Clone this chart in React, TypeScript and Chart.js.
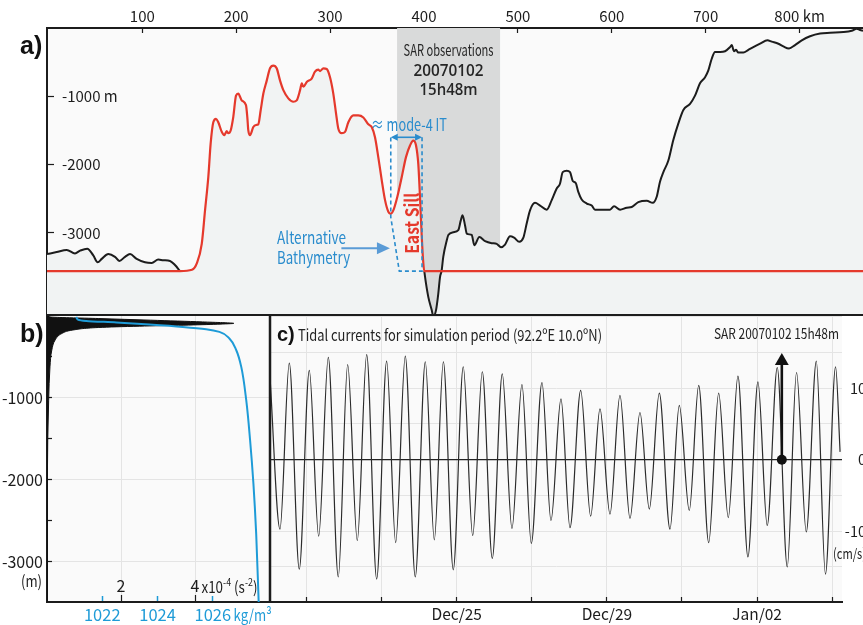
import React, { useEffect, useRef } from 'react';
import { Chart, registerables } from 'chart.js';

Chart.register(...registerables);

const FAM = '"Noto Sans CJK JP", "Noto Sans", "DejaVu Sans Condensed", sans-serif';
const SANS = '"Liberation Sans", "DejaVu Sans", sans-serif';
const OPEN = '"Open Sans", "Liberation Sans", sans-serif';
Chart.defaults.font.family = FAM;

const INK = '#1c1c1c';
const RED = '#e5392c';
const BLUE = '#2a8ccd';
const RHO_BLUE = '#1e9bd7';
const ARROW_BLUE = '#5a9bd6';
const SAR_GRAY = '#d9dada';
const WATER = '#fafafa';
const SEABED = '#f1f3f3';
const GRID = '#e4e4e4';

// ---------------- Panel a : bathymetry section ----------------
const kmTicks = [100, 200, 300, 400, 500, 600, 700, 800];
const lonTicks = [91, 92, 93, 94, 95, 96, 97];
const depthTicksA = [-1000, -2000, -3000, -4000];
const sarKm = [371.3, 481.0];

const westObsKm = [-1.5, 8.8, 19.5, 28.3, 33.7, 41.4, 47.8, 52.5, 56.8, 63.8, 70.9, 75.5, 81.6, 86.9, 94.0, 102.9, 110.0, 117.0, 122.4, 129.5, 134.8, 140.2];
const westObsDepth = [-3310, -3280, -3250, -3300, -3260, -3230, -3330, -3430, -3380, -3310, -3350, -3410, -3350, -3310, -3380, -3430, -3440, -3390, -3400, -3410, -3470, -3560];

const modelKm = [-1.5, 140.2, 152.9, 157.9, 163.3, 166.8, 170.3, 172.8, 175.6, 178.5, 180.9, 184.6, 187.3, 189.9, 191.6, 194.1, 196.9, 199.8, 202.2, 205.9, 210.4, 211.8, 212.9, 214.7, 218.2, 221.1, 223.5, 226.1, 228.9, 232.5, 236.0, 239.5, 243.1, 246.7, 250.2, 255.5, 260.8, 264.4, 268.0, 269.8, 271.5, 275.1, 280.4, 283.9, 287.4, 289.3, 292.8, 296.4, 299.9, 303.4, 306.3, 308.7, 312.4, 315.9, 319.4, 324.7, 330.0, 335.4, 340.7, 344.3, 347.8, 351.3, 355.0, 358.5, 362.0, 364.5, 367.3, 371.6, 376.3, 380.8, 385.1, 388.6, 391.5, 393.9, 395.7, 397.6, 399.3, 400.3, 867.5];
const modelDepth = [-3560, -3560, -3540, -3450, -3160, -2670, -2180, -1690, -1380, -1330, -1380, -1520, -1570, -1510, -1540, -1500, -1300, -990, -960, -1060, -1130, -1300, -1500, -1570, -1450, -1420, -1410, -1200, -960, -770, -590, -550, -590, -770, -910, -1030, -1080, -1060, -910, -810, -860, -790, -740, -640, -610, -630, -590, -600, -720, -960, -1250, -1470, -1540, -1520, -1380, -1280, -1280, -1310, -1410, -1450, -1600, -1890, -2230, -2520, -2690, -2720, -2670, -2470, -2180, -1890, -1720, -1650, -1720, -1990, -2470, -3060, -3450, -3560, -3560];

const eastObsKm = [400.3, 402.1, 404.6, 408.2, 409.9, 412.8, 415.2, 417.0, 418.8, 420.5, 424.2, 425.9, 431.2, 436.5, 439.1, 441.0, 443.7, 445.5, 450.8, 453.6, 458.9, 465.0, 472.1, 477.4, 482.0, 486.3, 491.6, 495.9, 501.5, 505.8, 509.4, 512.9, 518.2, 523.6, 530.7, 536.0, 541.3, 544.8, 547.7, 552.0, 555.5, 558.4, 561.6, 564.3, 567.9, 573.3, 578.6, 582.1, 591.0, 598.1, 602.4, 608.8, 615.9, 621.2, 628.2, 637.2, 643.6, 647.8, 651.3, 654.9, 660.2, 665.5, 670.8, 676.2, 683.3, 688.6, 693.9, 699.3, 702.8, 706.4, 709.9, 715.3, 720.6, 725.9, 727.7, 730.2, 732.3, 734.7, 740.1, 745.4, 750.7, 757.9, 765.7, 770.3, 777.4, 782.7, 788.7, 795.1, 802.3, 811.1, 821.8, 832.4, 846.6, 855.5, 860.9, 864.4, 867.5];
const eastObsDepth = [-3560, -3740, -3940, -4130, -4220, -4130, -3890, -3650, -3550, -3350, -3110, -3030, -2990, -2960, -2820, -2740, -2890, -3010, -3030, -3180, -3060, -3120, -3150, -3160, -3210, -3170, -3050, -3070, -3130, -3070, -2860, -2670, -2560, -2600, -2660, -2520, -2350, -2280, -2110, -2090, -2110, -2240, -2270, -2400, -2510, -2570, -2600, -2660, -2660, -2660, -2610, -2660, -2630, -2620, -2550, -2530, -2560, -2470, -2250, -2110, -1940, -1640, -1400, -1200, -1110, -990, -810, -720, -620, -450, -350, -350, -340, -280, -250, -340, -320, -360, -360, -320, -280, -230, -180, -200, -230, -270, -300, -250, -180, -120, -80, -70, -60, -40, -10, -30, -40];

const altBathyKm = [397.9, 397.9, 373.7, 364.6, 364.6];
const altBathyDepth = [-1600, -3560, -3560, -2770, -1600];
const modeSpanKm = [364.6, 397.9];
const modeSpanDepth = -1600;

// ---------------- Panel b : stratification ----------------
const depthTicksB = [-500, -1000, -1500, -2000, -2500, -3000];
const n2Ticks = [2, 4];
const rhoTicks = [1022, 1024, 1026];
const n2Depth = [0, -12, -31, -51, -72, -90, -100, -112, -124, -140, -171, -214, -293, -415, -621, -1028, -1517, -2000, -3490];
const n2Value = [0.05, 0.1, 1.4, 2.8, 4.2, 5.05, 4.6, 3.7, 2.5, 1.4, 0.7, 0.4, 0.22, 0.13, 0.08, 0.045, 0.02, 0.01, 0.005];
const rhoDepth = [-11, -43, -60, -79, -104, -133, -161, -194, -275, -418, -621, -1028, -1516, -2045, -2656, -3490];
const rhoValue = [1021.06, 1021.12, 1021.42, 1022.51, 1023.71, 1024.91, 1025.76, 1026.24, 1026.6, 1026.85, 1027.03, 1027.21, 1027.35, 1027.47, 1027.57, 1027.66];

// ---------------- Panel c : tidal currents ----------------
// time in days after 2006-12-20 00:00
const dayTicks = [1, 3, 5, 7, 9, 11, 13, 15];
const labeledDays = [5, 9, 13];
const speedTicks = [-15, -10, -5, 0, 5, 10, 15, 20];
const labeledSpeeds = [-10, 0, 10];
const tideDay = [0.03, 0.294, 0.542, 0.808, 1.075, 1.325, 1.581, 1.847, 2.097, 2.353, 2.603, 2.869, 3.135, 3.375, 3.631, 3.897, 4.164, 4.404, 4.645, 4.909, 5.175, 5.426, 5.682, 5.948, 6.214, 6.472, 6.738, 6.987, 7.271, 7.511, 7.777, 8.017, 8.302, 8.568, 8.816, 9.082, 9.348, 9.615, 9.881, 10.13, 10.395, 10.68, 10.928, 11.194, 11.445, 11.711, 11.977, 12.233, 12.49, 12.756, 13.022, 13.27, 13.537, 13.803, 14.05, 14.31, 14.577, 14.82, 15.09, 15.21];
const tideSpeed = [11.4, -9.7, 13.5, -15.3, 12.5, -10.7, 14.3, -16.4, 13.3, -11.3, 14.7, -16.7, 13.8, -11.6, 14.5, -16.4, 13.7, -11.2, 13.7, -15.4, 13.0, -10.6, 12.3, -13.8, 12.0, -9.6, 10.5, -11.7, 10.8, -8.5, 8.5, -9.5, 9.7, -7.9, 7.1, -7.6, 9.0, -8.2, 6.6, -6.9, 9.3, -9.7, 7.6, -7.1, 10.4, -11.6, 9.3, -8.1, 11.7, -13.6, 10.9, -9.2, 12.9, -15.0, 12.2, -10.1, 13.8, -16.0, 13.0, 1.1];
const sarDay = 13 + (15 * 60 + 48) / 1440;
const sarArrowSpeed = 13.8;

const MONTHS = ['Jan', 'Feb', 'Mar', 'Apr', 'May', 'Jun', 'Jul', 'Aug', 'Sep', 'Oct', 'Nov', 'Dec'];
const dayLabel = (d: number) => {
  const dt = new Date(Date.UTC(2006, 11, 20) + d * 86400000);
  return `${MONTHS[dt.getUTCMonth()]}/${String(dt.getUTCDate()).padStart(2, '0')}`;
};

const pts = (xs: number[], ys: number[]) => xs.map((x, i) => ({ x, y: ys[i] }));
const fixBox = (w: number | null, h: number | null) => (s: any) => {
  if (w !== null) s.width = w;
  if (h !== null) s.height = h;
  s.paddingTop = 0; s.paddingBottom = 0; s.paddingLeft = 0; s.paddingRight = 0;
};
const setTicks = (vals: number[]) => (s: any) => { s.ticks = vals.map((v) => ({ value: v })); };
const f = (size: number, weight = 'normal') => `${weight} ${size}px ${FAM}`;

function drawText(ctx: CanvasRenderingContext2D, s: string, x: number, y: number, font: string, color: string, align: CanvasTextAlign = 'center', maxW?: number) {
  ctx.save();
  ctx.font = font; ctx.fillStyle = color; ctx.textAlign = align; ctx.textBaseline = 'middle';
  if (maxW) ctx.fillText(s, x, y, maxW); else ctx.fillText(s, x, y);
  ctx.restore();
}
function drawRich(ctx: CanvasRenderingContext2D, parts: [string, boolean][], x: number, y: number, size: number, color: string, maxW: number) {
  ctx.save();
  let total = 0;
  for (const [t, sup] of parts) { ctx.font = f(sup ? size * 0.66 : size); total += ctx.measureText(t).width; }
  const k = Math.min(1, maxW / total);
  ctx.translate(x, y); ctx.scale(k, 1);
  ctx.fillStyle = color; ctx.textAlign = 'left'; ctx.textBaseline = 'middle';
  let cx = 0;
  for (const [t, sup] of parts) {
    ctx.font = f(sup ? size * 0.66 : size);
    ctx.fillText(t, cx, sup ? -size * 0.33 : 0);
    cx += ctx.measureText(t).width;
  }
  ctx.restore();
}
function fillBg(chart: any, color: string) {
  const { ctx, chartArea: a } = chart;
  ctx.save(); ctx.fillStyle = color; ctx.fillRect(a.left, a.top, a.right - a.left, a.bottom - a.top); ctx.restore();
}

const panelAPlugin = {
  id: 'panelA',
  beforeDraw(chart: any) { fillBg(chart, WATER); },
  beforeDatasetsDraw(chart: any) {
    const { ctx, chartArea: a, scales } = chart;
    const x1 = scales.km.getPixelForValue(sarKm[0]);
    const x2 = scales.km.getPixelForValue(sarKm[1]);
    ctx.save(); ctx.fillStyle = SAR_GRAY; ctx.fillRect(x1, a.top, x2 - x1, a.bottom - a.top); ctx.restore();
  },
  afterDatasetsDraw(chart: any) {
    const { ctx, scales } = chart;
    const X = (v: number) => scales.km.getPixelForValue(v);
    const Y = (v: number) => scales.depth.getPixelForValue(v);
    const cx = X((sarKm[0] + sarKm[1]) / 2);
    drawText(ctx, 'SAR observations', cx, Y(-326), f(16), '#262626', 'center', 90);
    drawText(ctx, '20070102', cx, Y(-634), `600 15.5px ${OPEN}`, '#262626', 'center', 70);
    drawText(ctx, '15h48m', cx, Y(-912), `600 15.5px ${OPEN}`, '#262626', 'center', 58);
    drawText(ctx, '\u2248 mode-4 IT', X(384), Y(-1410), f(17), BLUE, 'center', 76);
    const xl = X(modeSpanKm[0]), xr = X(modeSpanKm[1]), ym = Y(modeSpanDepth);
    ctx.save();
    ctx.strokeStyle = BLUE; ctx.fillStyle = BLUE; ctx.lineWidth = 1.6;
    ctx.beginPath(); ctx.moveTo(xl + 3, ym); ctx.lineTo(xr - 3, ym); ctx.stroke();
    ctx.beginPath(); ctx.moveTo(xl, ym); ctx.lineTo(xl + 7, ym - 3.5); ctx.lineTo(xl + 7, ym + 3.5); ctx.closePath(); ctx.fill();
    ctx.beginPath(); ctx.moveTo(xr, ym); ctx.lineTo(xr - 7, ym - 3.5); ctx.lineTo(xr - 7, ym + 3.5); ctx.closePath(); ctx.fill();
    ctx.restore();
    ctx.save();
    ctx.translate(X(386.9), Y(-2859)); ctx.rotate(-Math.PI / 2);
    drawText(ctx, 'East Sill', 0, 0, f(19, 'bold'), RED, 'center', 61);
    ctx.restore();
    drawText(ctx, 'Alternative', X(243.5), Y(-3064), f(17), BLUE, 'left', 69);
    drawText(ctx, 'Bathymetry', X(243.5), Y(-3357), f(17), BLUE, 'left', 73);
    const ax1 = X(312), ax2 = X(363.7), ay = Y(-3225);
    ctx.save();
    ctx.strokeStyle = ARROW_BLUE; ctx.fillStyle = ARROW_BLUE; ctx.lineWidth = 2;
    ctx.beginPath(); ctx.moveTo(ax1, ay); ctx.lineTo(ax2 - 10, ay); ctx.stroke();
    ctx.beginPath(); ctx.moveTo(ax2, ay); ctx.lineTo(ax2 - 13, ay - 6); ctx.lineTo(ax2 - 13, ay + 6); ctx.closePath(); ctx.fill();
    ctx.restore();
  },
  afterDraw(chart: any) {
    drawText(chart.ctx, 'a)', 20, 47, `bold 25px ${SANS}`, '#111', 'left');
  },
};

const panelBPlugin = {
  id: 'panelB',
  beforeDraw(chart: any) { fillBg(chart, WATER); },
  afterDraw(chart: any) {
    const { ctx, chartArea: a, scales } = chart;
    ctx.save(); ctx.fillStyle = INK; ctx.fillRect(a.right - 1.25, a.top - 2, 2.5, a.bottom - a.top + 3); ctx.restore();
    drawText(ctx, 'b)', 20, 21, `bold 25px ${SANS}`, '#111', 'left');
    drawText(ctx, '(m)', a.left - 5, scales.z.getPixelForValue(-3230), f(16), INK, 'right', 21);
    ctx.save(); ctx.font = f(16); const w4 = ctx.measureText('4').width; ctx.restore();
    drawRich(ctx, [['x10', false], ['-4', true], [' (s', false], ['-2', true], [')', false]], scales.n2.getPixelForValue(4) + w4 / 2 + 2, a.bottom - 15, 16, INK, 56);
    ctx.save(); ctx.font = f(16); const wr = ctx.measureText('1026').width; ctx.restore();
    drawText(ctx, 'kg/m\u00b3', scales.rho.getPixelForValue(1026) + wr / 2 + 3, a.bottom + 12.9, f(16), RHO_BLUE, 'left', 38);
  },
};

const panelCPlugin = {
  id: 'panelC',
  beforeDraw(chart: any) { fillBg(chart, WATER); },
  afterDraw(chart: any) {
    const { ctx, chartArea: a } = chart;
    drawText(ctx, 'c)', a.left + 6, a.top + 19, `bold 20px ${SANS}`, '#111', 'left');
    drawText(ctx, 'Tidal currents for simulation period (92.2\u00baE 10.0\u00baN)', a.left + 27, a.top + 19, f(15.5), '#222', 'left', 304);
    drawText(ctx, 'SAR 20070102 15h48m', a.right - 3, a.top + 17, f(14.5), '#222', 'right', 125);
    drawText(ctx, '(cm/s)', 596, 239, f(14.5), INK, 'right', 33);
  },
};

export default function App() {
  const aRef = useRef<HTMLCanvasElement>(null);
  const bRef = useRef<HTMLCanvasElement>(null);
  const cRef = useRef<HTMLCanvasElement>(null);

  useEffect(() => {
    const west = pts(westObsKm, westObsDepth);
    const model = pts(modelKm, modelDepth);
    const east = pts(eastObsKm, eastObsDepth);
    const seabed = [...west, ...model.filter((p) => p.x > west[west.length - 1].x && p.x < east[0].x), ...east];
    const line = (extra: any) => ({ pointRadius: 0, fill: false, cubicInterpolationMode: 'monotone', xAxisID: 'km', yAxisID: 'depth', ...extra });

    const chartA = new Chart(aRef.current!, {
      type: 'line',
      data: {
        datasets: [
          line({ data: seabed, borderWidth: 0, borderColor: 'rgba(0,0,0,0)', backgroundColor: SEABED, fill: 'start', order: 9 }),
          line({ data: model, borderColor: RED, borderWidth: 2.2, order: 3 }),
          line({ data: west, borderColor: INK, borderWidth: 2, order: 4 }),
          line({ data: east, borderColor: INK, borderWidth: 2, order: 4 }),
          line({ data: pts(altBathyKm, altBathyDepth), borderColor: BLUE, borderWidth: 1.6, borderDash: [4, 3], cubicInterpolationMode: 'default', tension: 0, order: 1 }),
        ],
      } as any,
      options: {
        responsive: false, animation: false, devicePixelRatio: 1, events: [],
        layout: { autoPadding: false, padding: { left: 47, right: 0, top: 0, bottom: 6 } },
        plugins: { legend: { display: false }, tooltip: { enabled: false } },
        scales: {
          km: {
            type: 'linear', position: 'top', min: -1.5, max: 867.5,
            afterBuildTicks: setTicks(kmTicks), afterFit: fixBox(null, 28),
            ticks: { autoSkip: false, maxRotation: 0, padding: 7.6, font: { size: 15 }, color: INK, callback: (v: any) => (v === 800 ? '800 km' : String(v)) },
            grid: { drawOnChartArea: false, tickLength: -5, tickColor: INK, tickWidth: 1.2 },
            border: { color: INK, width: 2 },
          },
          lon: {
            type: 'linear', position: 'bottom', min: 90.0, max: 97.936,
            afterBuildTicks: setTicks(lonTicks), afterFit: fixBox(null, 0),
            ticks: { mirror: true, autoSkip: false, maxRotation: 0, padding: 9.6, font: { size: 15.5 }, color: INK, callback: (v: any) => (v === 97 ? '97\u00baE' : String(v)) },
            grid: { drawOnChartArea: false, tickLength: -6, tickColor: INK, tickWidth: 1.2 },
            border: { color: INK, width: 3 },
          },
          depth: {
            type: 'linear', position: 'left', min: -4187, max: 0,
            afterBuildTicks: setTicks(depthTicksA), afterFit: fixBox(0, null),
            ticks: { mirror: true, padding: 15, font: { size: 15 }, color: INK, callback: (v: any) => (v === -1000 ? '-1000 m' : v === -4000 ? '' : String(v)) },
            grid: { drawOnChartArea: false, tickLength: -7, tickColor: INK, tickWidth: 1.2 },
            border: { color: INK, width: 2 },
          },
        },
      } as any,
      plugins: [panelAPlugin],
    });

    const chartB = new Chart(bRef.current!, {
      type: 'line',
      data: {
        datasets: [
          { data: pts(n2Value, n2Depth), xAxisID: 'n2', yAxisID: 'z', borderColor: '#111', borderWidth: 1, backgroundColor: '#111', fill: { value: 0 }, pointRadius: 0, cubicInterpolationMode: 'monotone', order: 2 },
          { data: pts(rhoValue, rhoDepth), xAxisID: 'rho', yAxisID: 'z', borderColor: RHO_BLUE, borderWidth: 2, fill: false, pointRadius: 0, cubicInterpolationMode: 'monotone', order: 1 },
        ],
      } as any,
      options: {
        indexAxis: 'y',
        responsive: false, animation: false, devicePixelRatio: 1, events: [],
        layout: { autoPadding: false, padding: { left: 0, right: 2, top: 2, bottom: 23 } },
        plugins: { legend: { display: false }, tooltip: { enabled: false } },
        scales: {
          z: {
            type: 'linear', position: 'left', min: -3490, max: 0,
            afterBuildTicks: setTicks(depthTicksB), afterFit: fixBox(47, null),
            ticks: { padding: 9, font: { size: 16 }, color: INK, callback: (v: any) => (v % 1000 === 0 ? String(v) : '') },
            grid: { color: (c: any) => (c.tick && c.tick.value % 1000 === 0 ? GRID : 'rgba(0,0,0,0)'), tickLength: -5, tickColor: INK, tickWidth: 1.2 },
            border: { color: INK, width: 2 },
          },
          n2: {
            type: 'linear', position: 'bottom', min: 0, max: 6.027,
            afterBuildTicks: setTicks(n2Ticks), afterFit: fixBox(null, 0),
            ticks: { mirror: true, padding: 6, font: { size: 16 }, color: INK, autoSkip: false, maxRotation: 0, callback: (v: any) => String(v) },
            grid: { color: GRID, tickLength: -7, tickColor: INK, tickWidth: 1.2 },
            border: { color: INK, width: 2 },
          },
          rho: {
            type: 'linear', position: 'bottom', min: 1020, max: 1028.07,
            afterBuildTicks: setTicks(rhoTicks), afterFit: fixBox(null, 0),
            ticks: { mirror: true, padding: -22.5, font: { size: 16.5 }, color: RHO_BLUE, autoSkip: false, maxRotation: 0, callback: (v: any) => String(v) },
            grid: { drawOnChartArea: false, tickLength: -6, tickColor: RHO_BLUE, tickWidth: 1.5 },
            border: { display: false },
          },
        },
      } as any,
      plugins: [panelBPlugin],
    });

    const chartC = new Chart(cRef.current!, {
      type: 'line',
      data: {
        datasets: [
          { data: pts([sarDay, sarDay], [0, sarArrowSpeed]), xAxisID: 't', yAxisID: 'v', borderColor: '#111', borderWidth: 2.6, tension: 0, fill: false,
            pointStyle: ['circle', 'triangle'], pointRadius: [5, 8], pointBackgroundColor: '#111', pointBorderColor: '#111', pointBorderWidth: 0, order: 1 },
          { data: pts(tideDay, tideSpeed), xAxisID: 't', yAxisID: 'v', borderColor: '#2b2b2b', borderWidth: 1.2, fill: false, pointRadius: 0, cubicInterpolationMode: 'monotone', order: 2 },
        ],
      } as any,
      options: {
        responsive: false, animation: false, devicePixelRatio: 1, events: [],
        layout: { autoPadding: false, padding: { left: 1, right: 4, top: 2, bottom: 0 } },
        plugins: { legend: { display: false }, tooltip: { enabled: false } },
        scales: {
          t: {
            type: 'linear', position: 'bottom', min: 0.055, max: 15.261,
            afterBuildTicks: setTicks(dayTicks), afterFit: fixBox(null, 23),
            ticks: { autoSkip: false, maxRotation: 0, padding: 7.6, font: { size: 15.5 }, color: INK, callback: (v: any) => (labeledDays.includes(v) ? dayLabel(v) : '') },
            grid: { color: GRID, tickLength: -5, tickColor: INK, tickWidth: 1.2 },
            border: { color: INK, width: 2 },
          },
          v: {
            type: 'linear', position: 'right', min: -19.9, max: 20.1,
            afterBuildTicks: setTicks(speedTicks), afterFit: fixBox(24, null),
            ticks: { crossAlign: 'far', padding: 0, font: { size: 14.5 }, color: INK, callback: (v: any) => (labeledSpeeds.includes(v) ? String(v) : '') },
            grid: { color: (c: any) => (c.tick && c.tick.value === 0 ? '#222' : GRID), lineWidth: (c: any) => (c.tick && c.tick.value === 0 ? 1.3 : 1), drawTicks: false },
            border: { display: false },
          },
        },
      } as any,
      plugins: [panelCPlugin],
    });

    return () => { chartA.destroy(); chartB.destroy(); chartC.destroy(); };
  }, []);

  return (
    <div style={{ position: 'fixed', left: 0, top: 0, width: 863, height: 625, overflow: 'hidden', background: '#fff' }}>
      <canvas ref={cRef} width={600} height={311} style={{ position: 'absolute', left: 270, top: 314 }} />
      <canvas ref={bRef} width={272} height={311} style={{ position: 'absolute', left: 0, top: 314 }} />
      <canvas ref={aRef} width={863} height={320} style={{ position: 'absolute', left: 0, top: 0 }} />
    </div>
  );
}
